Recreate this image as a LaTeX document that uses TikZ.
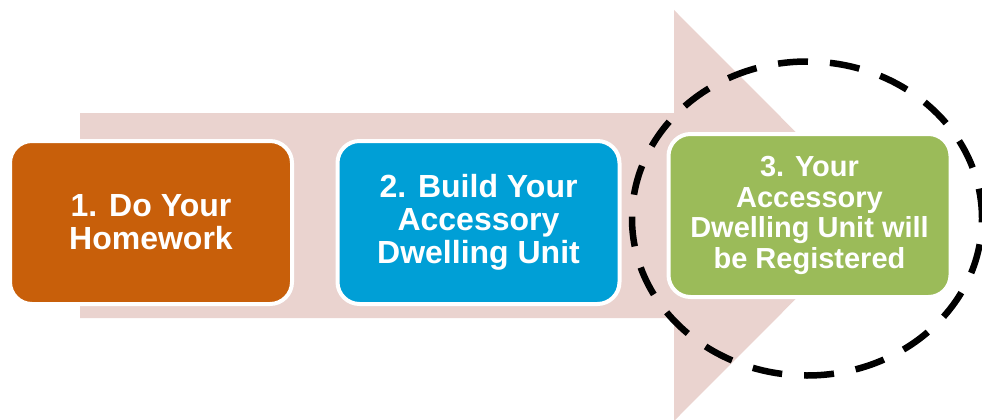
\documentclass[tikz,border=0pt]{standalone}
\usepackage{fontspec}
\setmainfont{Liberation Sans}
\definecolor{arrowpink}{RGB}{234,211,207}
\definecolor{homeorange}{RGB}{200,95,10}
\definecolor{buildblue}{RGB}{0,159,214}
\definecolor{regreen}{RGB}{155,187,89}
\tikzset{
  stepbox/.style={rounded corners=22pt, draw=white, line width=4pt, text=white,
    font=\bfseries\fontsize{32}{33}\selectfont, align=center, inner sep=0pt,
    minimum width=282pt, minimum height=163pt},
  ringdash/.style={draw=black, line width=6.5pt, dash pattern=on 30pt off 22pt}
}
\begin{document}
\begin{tikzpicture}[x=1pt, y=-1pt, line join=round]
\useasboundingbox (0,0) rectangle (982,420);
% the big arrow behind the steps
\fill[arrowpink] (80,113) -- (674,113) -- (674,10) -- (879,215.5)
  -- (674,421) -- (674,318) -- (80,318) -- cycle;
% the three steps
\node[stepbox, fill=homeorange] (homework) at (151,222.5) {1. Do Your\\Homework};
\node[stepbox, fill=buildblue] (build) at (478.5,222.5) {2. Build Your\\Accessory\\Dwelling Unit};
\node[stepbox, fill=regreen, font=\bfseries\fontsize{29}{30.5}\selectfont] (registered) at (809.5,215.5)
  {3. Your\\Accessory\\Dwelling Unit will\\be Registered};
% dashed ring round the last step
\draw[ringdash] (807,218.5) ellipse [x radius=175pt, y radius=157pt];
\end{tikzpicture}
\end{document}
